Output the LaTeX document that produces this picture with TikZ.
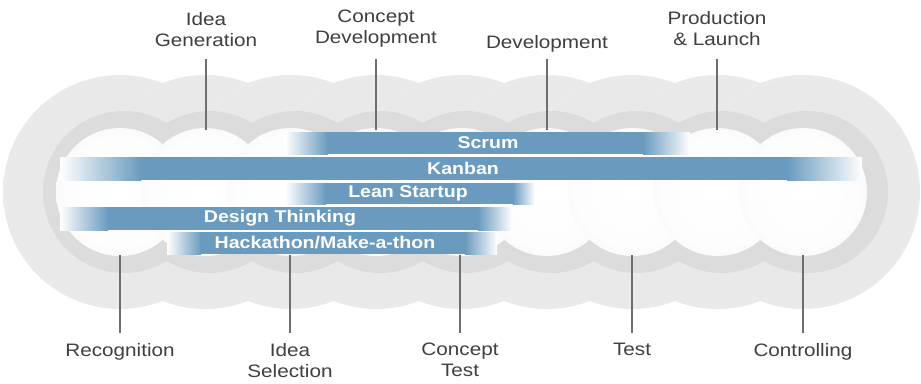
\documentclass[tikz,border=0pt]{standalone}
\usepackage{fontspec}
\setmainfont{Liberation Sans}
\definecolor{barblue}{HTML}{6A9BBF}
\definecolor{lblcol}{HTML}{3F3F3F}
\definecolor{linecol}{HTML}{6E6E6E}
\definecolor{haloA}{HTML}{E9E9E9}
\definecolor{haloB}{HTML}{F1F1F1}
\definecolor{haloC}{HTML}{FCFCFC}
\definecolor{ringA}{HTML}{DCDCDC}
\definecolor{ringB}{HTML}{E9E9E9}
\definecolor{discA}{HTML}{FDFDFD}
\definecolor{discB}{HTML}{F3F3F3}
\pgfdeclareradialshading{haloshade}{\pgfpoint{0bp}{0bp}}{color(0bp)=(haloA); color(24bp)=(haloA); color(29bp)=(haloB); color(35.4bp)=(haloC); color(50bp)=(haloC)}
\pgfdeclareradialshading{ringshade}{\pgfpoint{0bp}{0bp}}{color(0bp)=(ringA); color(28.5bp)=(ringA); color(35.4bp)=(ringB); color(50bp)=(ringB)}
\pgfdeclareradialshading{discshade}{\pgfpoint{0bp}{0bp}}{color(0bp)=(white); color(21bp)=(discA); color(35.4bp)=(discB); color(50bp)=(discB)}
\newcommand{\sx}[1]{\scalebox{1.15}[1]{#1}}
\tikzset{
  lbl/.style={font=\fontsize{18}{21}\selectfont, text=lblcol, align=center, inner sep=0pt},
  bartxt/.style={font=\bfseries\fontsize{17}{20}\selectfont, text=white, inner sep=0pt},
  conn/.style={draw=linecol, line width=1.1pt},
  halo/.style={shading=haloshade},
  ring/.style={shading=ringshade},
  disc/.style={shading=discshade},
  fadein/.style={left color=white, right color=barblue},
  fadeout/.style={left color=barblue, right color=white}
}
\begin{document}
\begin{tikzpicture}[x=1pt,y=-1pt]
\useasboundingbox (0,0) rectangle (921,383);
\fill[white] (0,0) rectangle (921,383);
% circle centres
\foreach \i in {1,...,9} {
  \coordinate (c\i) at ({120+85.375*(\i-1)},192);
}
% halos
\foreach \i in {1,...,9} {
  \shade[halo] (c\i) circle[radius=117];
}
% rings
\foreach \i in {1,...,9} {
  \shade[ring] ([xshift=4pt]c\i) circle[radius=81];
}
% discs
\foreach \i in {1,...,9} {
  \shade[disc] (c\i) circle[radius=64];
}
% bars
% Scrum
\shade[fadein] (285,132) rectangle (328,154);
\fill[barblue] (327,132) rectangle (644,154);
\shade[fadeout] (643,132) rectangle (690,154);
% Kanban
\shade[fadein] (60,157) rectangle (141,180);
\fill[barblue] (140,157) rectangle (788,180);
\shade[fadeout] (787,157) rectangle (862,180);
% Lean Startup
\shade[fadein] (285,183) rectangle (326,204);
\fill[barblue] (325,183) rectangle (514,204);
\shade[fadeout] (513,183) rectangle (535,204);
% Design Thinking
\shade[fadein] (60,207) rectangle (108,230);
\fill[barblue] (107,207) rectangle (479,230);
\shade[fadeout] (478,207) rectangle (512,230);
% Hackathon
\shade[fadein] (167,232) rectangle (201,254);
\fill[barblue] (200,232) rectangle (466,254);
\shade[fadeout] (465,232) rectangle (497,254);
% bar texts
\node[bartxt] (scrum) at (488,143) {\sx{Scrum}};
\node[bartxt] (kanban) at (463,168.5) {\sx{Kanban}};
\node[bartxt] (lean) at (408,193.5) {\sx{Lean Startup}};
\node[bartxt] (design) at (280,218.5) {\sx{Design Thinking}};
\node[bartxt] (hack) at (325,243) {\sx{Hackathon/Make-a-thon}};
% connector end points on the circles
\coordinate (t2) at (206,130);
\coordinate (t4) at (376,130);
\coordinate (t6) at (547,130);
\coordinate (t8) at (717,130);
\coordinate (b1) at (120,255);
\coordinate (b3) at (290,255);
\coordinate (b5) at (460,255);
\coordinate (b7) at (632,255);
\coordinate (b9) at (803,255);
% top labels
\node[lbl, anchor=south] (lIG) at (206,47) {\sx{Idea}\\\sx{Generation}};
\node[lbl, anchor=south] (lCD) at (376,47) {\sx{Concept}\\\sx{Development}};
\node[lbl, anchor=south] (lDV) at (547,52) {\sx{Development}};
\node[lbl, anchor=south] (lPL) at (717,46) {\sx{Production}\\\sx{\& Launch}};
% bottom labels
\node[lbl, anchor=north] (lRE) at (120,343) {\sx{Recognition}};
\node[lbl, anchor=north] (lIS) at (290,343) {\sx{Idea}\\\sx{Selection}};
\node[lbl, anchor=north] (lCT) at (460,343) {\sx{Concept}\\\sx{Test}};
\node[lbl, anchor=north] (lTE) at (632,343) {\sx{Test}};
\node[lbl, anchor=north] (lCO) at (803,343) {\sx{Controlling}};
% connectors
\draw[conn, shorten <=12pt] (lIG.south) -- (t2);
\draw[conn, shorten <=12pt] (lCD.south) -- (t4);
\draw[conn, shorten <=7pt] (lDV.south) -- (t6);
\draw[conn, shorten <=13pt] (lPL.south) -- (t8);
\draw[conn, shorten >=10pt] (b1) -- (lRE.north);
\draw[conn, shorten >=10pt] (b3) -- (lIS.north);
\draw[conn, shorten >=10pt] (b5) -- (lCT.north);
\draw[conn, shorten >=10pt] (b7) -- (lTE.north);
\draw[conn, shorten >=10pt] (b9) -- (lCO.north);
\end{tikzpicture}
\end{document}
